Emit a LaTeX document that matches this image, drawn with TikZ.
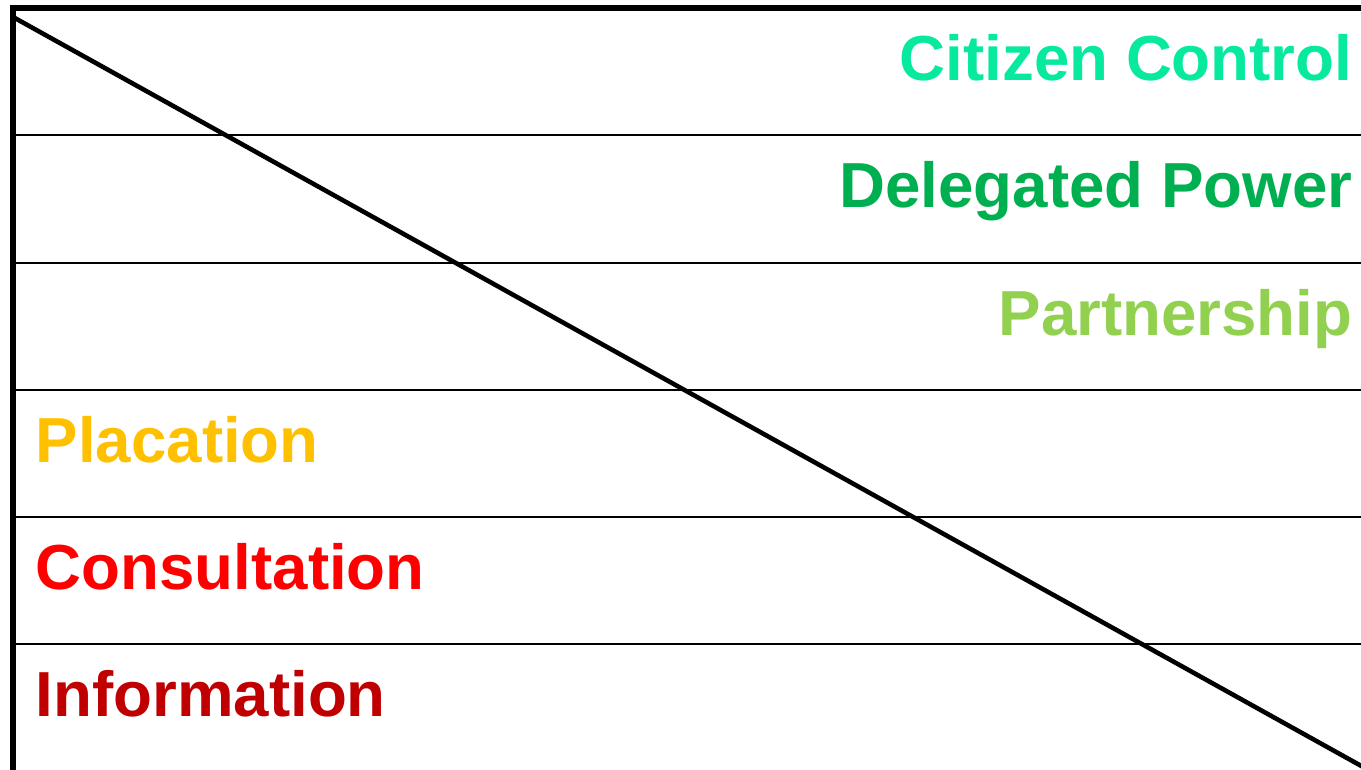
\documentclass[tikz,border=0pt]{standalone}
\usepackage{fontspec}
\setmainfont{Liberation Sans}
\usepackage{xcolor}
\definecolor{citizen}{HTML}{07E99E}
\definecolor{delegated}{HTML}{00B050}
\definecolor{partner}{HTML}{92D050}
\definecolor{placate}{HTML}{FFC000}
\definecolor{consult}{HTML}{FF0000}
\definecolor{inform}{HTML}{C00000}
\tikzset{
  every picture/.style={line join=miter},
  frame/.style={line width=1.8pt, line cap=rect},
  rung/.style={line width=0.8pt},
  slope/.style={line width=1.3pt},
  level/.style={font=\fontsize{18.1}{22}\selectfont\bfseries, inner sep=0pt},
}

\begin{document}
\begin{tikzpicture}[x=0.01cm,y=-0.01cm]
\useasboundingbox (0,0) rectangle (1361,769);
% frame and ladder rungs
\draw[frame](1365,8)--(13,8)--(13,775);
\foreach \y in {135,263,390,517,644}
  \draw[rung](13,\y)--(1365,\y);
\draw[slope](13,17)--(1365,768);
% levels
\node[level,citizen,anchor=base east] (cc) at (1353,80) {Citizen Control};
\node[level,delegated,anchor=base east] (dp) at (1353,207) {Delegated Power};
\node[level,partner,anchor=base east] (pa) at (1353,335) {Partnership};
\node[level,placate,anchor=base west] (pl) at (35,462) {Placation};
\node[level,consult,anchor=base west] (co) at (35,589) {Consultation};
\node[level,inform,anchor=base west] (in) at (35,716) {Information};
\end{tikzpicture}
\end{document}
